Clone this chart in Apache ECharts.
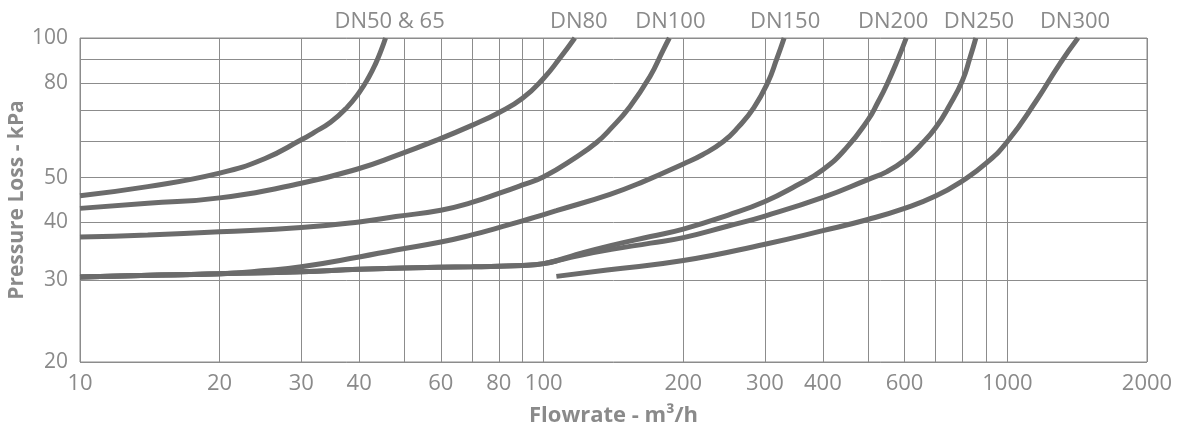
<!DOCTYPE html>
<html>
<head>
<meta charset="utf-8">
<title>Pressure loss vs flowrate</title>
<script src="https://cdn.jsdelivr.net/npm/echarts@6/dist/echarts.min.js"></script>
<style>
html, body { margin: 0; padding: 0; background: #fff; }
#chart { width: 1184px; height: 428px; }
</style>
</head>
<body>
<div id="chart"></div>
<script>
// axis ticks (log axes)
var xGridValues = [10, 20, 30, 40, 50, 60, 70, 80, 90, 100, 200, 300, 400, 500, 600, 700, 800, 900, 1000, 2000]
var xLabelValues = [10, 20, 30, 40, 60, 80, 100, 200, 300, 400, 600, 1000, 2000]
var yGridValues = [20, 30, 40, 50, 60, 70, 80, 90, 100]
var yLabelValues = [20, 30, 40, 50, 80, 100]

// curves: flowrate (m3/h) and pressure loss (kPa)
var dn50Flow = [10, 14, 20, 25, 30, 32, 34.7, 37.5, 40, 42, 43.5, 44.6, 45.6]
var dn50Loss = [45.7, 47.8, 51.1, 54.9, 60.3, 62.6, 65.8, 70.5, 76.3, 82.5, 88.5, 94.0, 100]

var dn80Flow = [10, 14, 20, 30, 40, 48.2, 59, 70, 80, 90, 100, 108.3, 116.7]
var dn80Loss = [42.9, 44.0, 45.2, 48.6, 52.3, 55.8, 60.3, 64.8, 69.0, 74.1, 81.9, 90.4, 100]

var dn100Flow = [10, 14, 20, 30, 40, 48, 60, 70, 80, 90, 100, 118, 130, 139, 153.4, 169.4, 181, 186.6]
var dn100Loss = [37.2, 37.6, 38.2, 39.0, 40.1, 41.2, 42.5, 44.2, 46.2, 48.2, 50.2, 55.5, 59.5, 63.5, 71.1, 82.5, 94.2, 100]

var dn150Flow = [10, 15, 20, 25, 30, 40, 48, 60, 70, 80, 90, 100, 106.5, 139, 164, 200, 220, 244, 263, 284, 304, 318, 330]
var dn150Loss = [30.5, 30.8, 31.0, 31.5, 32.1, 33.7, 34.9, 36.3, 37.6, 39.0, 40.3, 41.6, 42.4, 46.0, 49.0, 53.5, 56.0, 59.8, 64.3, 70.8, 80.0, 90.0, 100]

var dn200Flow = [10, 15, 20, 30, 40, 50, 70, 90, 100, 110, 120, 140, 170, 200, 250, 300, 350, 400, 450, 500, 525, 550, 580, 605]
var dn200Loss = [30.5, 30.8, 31.0, 31.3, 31.7, 31.9, 32.1, 32.3, 32.6, 33.4, 34.3, 35.7, 37.3, 38.7, 41.5, 44.4, 48.0, 52.0, 58.0, 66.5, 72.5, 79.5, 89.8, 100]

var dn250Flow = [10, 15, 20, 30, 40, 50, 70, 90, 100, 110, 120, 140, 170, 200, 250, 300, 400, 500, 550, 600, 650, 700, 750, 800, 830, 855]
var dn250Loss = [30.5, 30.8, 31.0, 31.3, 31.7, 31.9, 32.1, 32.3, 32.6, 33.3, 34.0, 35.0, 36.1, 37.1, 39.3, 41.3, 45.3, 49.5, 51.5, 54.5, 58.8, 64.0, 71.5, 81.0, 90.5, 100]

var dn300Flow = [106.5, 137, 200, 300, 400, 500, 600, 700, 800, 900, 1000, 1157, 1299, 1420]
var dn300Loss = [30.6, 31.6, 33.1, 35.9, 38.4, 40.6, 42.9, 45.6, 49.2, 53.7, 59.8, 73.5, 88.2, 100]

var textColor = '#8a8a8a'
var gridColor = '#8c8c8c'
var curveColor = '#6b6b6b'
var fontFamily = '"Open Sans", "DejaVu Sans", sans-serif'

function pairs (xs, ys) {
  var out = []
  for (var i = 0; i < xs.length; i++) out.push([xs[i], ys[i]])
  return out
}

function curve (name, xs, ys, shiftX) {
  shiftX = shiftX || 0
  return {
    name: name,
    type: 'line',
    data: pairs(xs, ys),
    smooth: 0.5,
    showSymbol: false,
    symbol: 'none',
    silent: true,
    lineStyle: { color: curveColor, width: 5, cap: 'butt' },
    endLabel: {
      show: true,
      formatter: name,
      distance: 0,
      align: 'center',
      verticalAlign: 'bottom',
      padding: [0, shiftX < 0 ? -2 * shiftX : 0, 5, shiftX > 0 ? 2 * shiftX : 0],
      color: textColor,
      fontFamily: fontFamily,
      fontSize: 22
    }
  }
}

var chart = echarts.init(document.getElementById('chart'), null, { renderer: 'canvas' })

chart.setOption({
  animation: false,
  backgroundColor: '#ffffff',
  grid: {
    left: 80,
    right: 37,
    top: 38,
    bottom: 66,
    outerBoundsMode: 'none',
    containLabel: false,
    show: true,
    borderColor: gridColor,
    borderWidth: 1
  },
  xAxis: {
    type: 'log',
    logBase: 10,
    min: 10,
    max: 2000,
    name: 'Flowrate - m³/h',
    nameLocation: 'middle',
    nameGap: 43,
    nameMoveOverlap: false,
    nameTextStyle: { color: textColor, fontFamily: fontFamily, fontSize: 22, fontWeight: 'bold' },
    axisLine: { show: false },
    axisTick: { show: false, customValues: xGridValues },
    splitLine: { show: true, lineStyle: { color: gridColor, width: 1 } },
    minorSplitLine: { show: false },
    axisLabel: {
      customValues: xLabelValues,
      margin: 11,
      color: textColor,
      fontFamily: fontFamily,
      fontSize: 22,
      formatter: function (v) { return String(v) }
    }
  },
  yAxis: {
    type: 'log',
    logBase: 10,
    min: 20,
    max: 100,
    name: 'Pressure Loss - kPa',
    nameLocation: 'middle',
    nameGap: 52,
    nameMoveOverlap: false,
    nameTextStyle: { color: textColor, fontFamily: fontFamily, fontSize: 21, fontWeight: 'bold' },
    axisLine: { show: false },
    axisTick: { show: false, customValues: yGridValues },
    splitLine: { show: true, lineStyle: { color: gridColor, width: 1 } },
    minorSplitLine: { show: false },
    axisLabel: {
      customValues: yLabelValues,
      margin: 12,
      color: textColor,
      fontFamily: fontFamily,
      fontSize: 21,
      formatter: function (v) { return String(v) }
    }
  },
  series: [
    curve('DN50 & 65', dn50Flow, dn50Loss, 4),
    curve('DN80', dn80Flow, dn80Loss, 4),
    curve('DN100', dn100Flow, dn100Loss, 1),
    curve('DN150', dn150Flow, dn150Loss, 1),
    curve('DN200', dn200Flow, dn200Loss, -13),
    curve('DN250', dn250Flow, dn250Loss, 3),
    curve('DN300', dn300Flow, dn300Loss, -3)
  ]
})
</script>
</body>
</html>
